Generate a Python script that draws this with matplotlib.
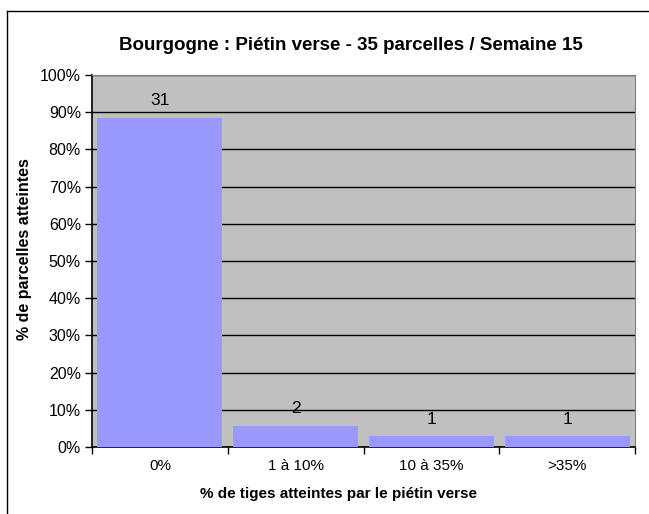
import numpy as np
import matplotlib
matplotlib.use("Agg")
import matplotlib.pyplot as plt
from matplotlib.ticker import PercentFormatter

plt.rcParams['font.family'] = ['Liberation Sans', 'DejaVu Sans']

# data
categories = ['0%', '1 à 10%', '10 à 35%', '>35%']
counts = [31, 2, 1, 1]
total = 35
pct = [100.0 * c / total for c in counts]

W, H = 649, 514
fig = plt.figure(figsize=(W / 100, H / 100), dpi=100)

# outer frame of the chart (only top and left visible)
fig.add_artist(plt.Line2D([7 / W, 1], [1 - 11 / H, 1 - 11 / H], color='black', lw=1))
fig.add_artist(plt.Line2D([7 / W, 7 / W], [0, 1 - 11 / H], color='black', lw=1))

ax = fig.add_axes([92 / W, 1 - 447 / H, (635 - 92) / W, (447 - 75) / H])
ax.set_facecolor('#C0C0C0')

x = np.arange(len(categories))
ax.bar(x, pct, width=0.92, color='#9999FF', zorder=3)
for xi, p, c in zip(x, pct, counts):
    ax.text(xi, p + 2.5, str(c), ha='center', va='bottom', fontsize=12.5, zorder=4)

ax.set_xlim(-0.5, len(categories) - 0.5)
ax.set_ylim(0, 100)
ax.set_yticks(np.arange(0, 101, 10))
ax.yaxis.set_major_formatter(PercentFormatter(decimals=0))
ax.yaxis.grid(True, color='black', lw=1, zorder=1)
ax.set_axisbelow(True)

ax.set_xticks(np.arange(-0.5, len(categories), 1.0))
ax.set_xticklabels([])
ax.set_xticks(x, minor=True)
ax.set_xticklabels(categories, minor=True)
ax.tick_params(axis='x', which='minor', length=0, pad=9, labelsize=11)
ax.tick_params(axis='x', which='major', length=5, direction='out', width=1)
ax.tick_params(axis='y', length=5, direction='out', width=1, labelsize=11.5, pad=3)

for side in ['top', 'right']:
    ax.spines[side].set_color('#808080')
for side in ['left', 'bottom']:
    ax.spines[side].set_color('black')
    ax.spines[side].set_linewidth(1.2)

fig.text(351 / W, 1 - 46 / H, 'Bourgogne : Piétin verse - 35 parcelles / Semaine 15',
         fontsize=13.5, fontweight='bold', ha='center', va='center')
fig.text(338 / W, 1 - 494 / H, '% de tiges atteintes par le piétin verse',
         fontsize=11, fontweight='bold', ha='center', va='center')
fig.text(25 / W, 1 - 249 / H, '% de parcelles atteintes', rotation=90,
         fontsize=11.5, fontweight='bold', ha='center', va='center')

fig.savefig('out.png', dpi=100)
